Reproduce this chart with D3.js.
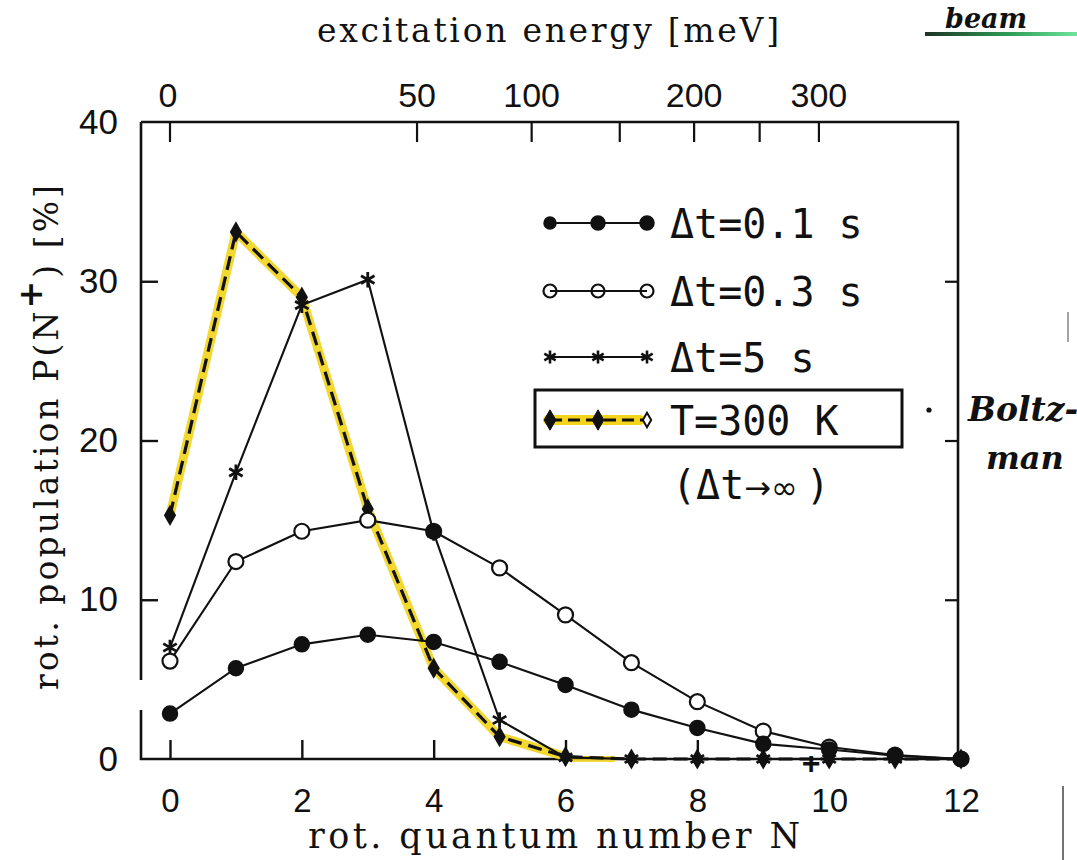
<!DOCTYPE html>
<html><head><meta charset="utf-8">
<script src="https://cdn.jsdelivr.net/npm/d3@7"></script>
<style>body{margin:0;background:#fff}svg{display:block}</style>
</head><body>
<svg id="c" width="1077" height="860"></svg>
<script>
// ---- data ----
const N      = [0,1,2,3,4,5,6,7,8,9,10,11,12];
const dt01   = [2.85,5.7,7.2,7.8,7.35,6.1,4.65,3.1,1.95,0.95,0.6,0.2,0];
const dt03   = [6.15,12.4,14.3,15.0,14.3,12.0,9.05,6.05,3.6,1.75,0.75,0.25,0];
const dt5    = [7.0,18.0,28.5,30.1,14.2,2.45,0.1,0,0,0,0,0,0];
const T300   = [15.3,33.1,29.0,15.7,5.7,1.4,0.15,0,0,0,0,0,0];
const xTicks = [0,2,4,6,8,10,12];
const yTicks = [0,10,20,30,40];
const energyTicks  = [0,50,100,150,200,250,300];
const energyLabels = ["0","50","100","","200","","300"];
const Brot = 2.81; // meV, E = B N(N+1)
const legendLabels = ["\u0394t=0.1 s","\u0394t=0.3 s","\u0394t=5 s","T=300 K"];

// ---- setup ----
const svg = d3.select("#c");
const x = d3.scaleLinear().domain([0,12]).range([170,961]);
const y = d3.scaleLinear().domain([0,40]).range([759,122]);
const L = 141, R = 958, T = y(40), B = y(0);
const ink = "#111";
const yellow = "#f2d41a";
const sansNum = "'Liberation Sans', Arial, sans-serif";
const serif = "'DejaVu Serif', serif";
const legFont = "'DejaVu Sans Mono', monospace";

const ser = (vals) => N.map((n,i)=>({n, v: vals[i]}));
const line = d3.line().x(d=>x(d.n)).y(d=>y(d.v));

// ---- frame (left side broken, as in the scan) ----
const frame = svg.append("g").attr("stroke", ink).attr("stroke-width", 2.6).attr("fill","none");
frame.append("path").attr("d", `M${L},${T}H${R}V${B}H${L}V710`);
frame.append("path").attr("d", `M${L},680V${T}`);

// bottom axis ticks (inward) + labels
const xAxis = d3.axisBottom(x).tickValues(xTicks).tickSize(-19).tickPadding(30).tickFormat(d3.format("d"));
const gx = svg.append("g").attr("transform", `translate(0,${B})`).call(xAxis);
gx.select(".domain").remove();
gx.selectAll(".tick line").attr("stroke", ink).attr("stroke-width", 2.4)
  .filter(d => d === 12).remove();
gx.selectAll(".tick text").attr("font-family", sansNum).attr("font-size", 33).attr("fill", ink);

// left axis
const yAxis = d3.axisLeft(y).tickValues(yTicks).tickSize(-17).tickPadding(23).tickFormat(d3.format("d"));
const gy = svg.append("g").attr("transform", `translate(${L},0)`).call(yAxis);
gy.select(".domain").remove();
gy.selectAll(".tick line").attr("stroke", ink).attr("stroke-width", 2.4)
  .filter(d => d === 0 || d === 40).remove();
gy.selectAll(".tick text").attr("font-family", sansNum).attr("font-size", 35).attr("fill", ink);

// right axis ticks
const yAxisR = d3.axisRight(y).tickValues([10,20,30]).tickSize(-13).tickFormat("");
const gyr = svg.append("g").attr("transform", `translate(${R},0)`).call(yAxisR);
gyr.select(".domain").remove();
gyr.selectAll(".tick line").attr("stroke", ink).attr("stroke-width", 2.2);

// top energy axis
const eToN = E => (-1 + Math.sqrt(1 + 4*E/Brot)) / 2;
const ex = E => x(eToN(E));
const gt = svg.append("g");
gt.selectAll("line").data(energyTicks).join("line")
  .attr("x1", d=>ex(d)).attr("x2", d=>ex(d)).attr("y1", T).attr("y2", T+20)
  .attr("stroke", ink).attr("stroke-width", 2.2);
gt.selectAll("text").data(energyTicks).join("text")
  .attr("x", d=>ex(d) - (d===0?2:0)).attr("y", 107).attr("text-anchor","middle")
  .attr("font-family", sansNum).attr("font-size", 34).attr("fill", ink)
  .text((d,i)=>energyLabels[i]);

// ---- axis titles ----
svg.append("text").attr("x", 317).attr("y", 42).attr("font-family", serif)
  .attr("font-size", 33).attr("fill", ink)
  .attr("textLength", 462).attr("lengthAdjust", "spacing").text("excitation energy [meV]");
svg.append("text").attr("x", 308).attr("y", 848).attr("font-family", serif)
  .attr("font-size", 35).attr("fill", ink)
  .attr("textLength", 492).attr("lengthAdjust", "spacing").text("rot. quantum number N");
svg.append("text").attr("x", 811).attr("y", 774).attr("text-anchor","middle").attr("font-family", sansNum)
  .attr("font-size", 32).attr("font-weight", "bold").attr("fill", ink).text("+");
const yl = svg.append("text").attr("transform", "translate(58,690) rotate(-90)")
  .attr("font-family", serif).attr("font-size", 33).attr("fill", ink)
  .attr("textLength", 505).attr("lengthAdjust", "spacing");
yl.append("tspan").text("rot. population P(N");
yl.append("tspan").attr("dy", -16).attr("font-weight","bold").text("+");
yl.append("tspan").attr("dy", 16).text(") [%]");

// ---- series ----
const plot = svg.append("g");
plot.append("path").datum(ser(T300).filter(d => d.n <= 6))
  .attr("d", line).attr("fill","none").attr("stroke", yellow).attr("stroke-width", 9)
  .attr("stroke-linejoin","round").attr("stroke-linecap","round").attr("opacity", 0.9);
plot.append("path").datum([{n:6,v:0},{n:6.75,v:0}]).attr("d", line).attr("fill","none")
  .attr("stroke", yellow).attr("stroke-width", 6).attr("opacity", 0.85);

[dt01, dt03, dt5].forEach(s => {
  plot.append("path").datum(ser(s)).attr("d", line).attr("fill","none")
    .attr("stroke", ink).attr("stroke-width", 2.1);
});
plot.append("path").datum(ser(T300)).attr("d", line).attr("fill","none")
  .attr("stroke", ink).attr("stroke-width", 3.2).attr("stroke-dasharray", "14,7");

// markers
const star = d3.symbol().type(d3.symbolAsterisk).size(170);
const diamond = d3.symbol().type(d3.symbolDiamond).size(130);
plot.append("g").selectAll("path").data(ser(dt5)).join("path")
  .attr("transform", d=>`translate(${x(d.n)},${y(d.v)})`).attr("d", star)
  .attr("fill","none").attr("stroke", ink).attr("stroke-width", 2.8);
plot.append("g").selectAll("path").data(ser(T300)).join("path")
  .attr("transform", d=>`translate(${x(d.n)},${y(d.v)})`).attr("d", diamond)
  .attr("fill", ink);
plot.append("g").selectAll("circle").data(ser(dt03)).join("circle")
  .attr("cx", d=>x(d.n)).attr("cy", d=>y(d.v)).attr("r", 7.5)
  .attr("fill", d => d.n === 4 ? ink : "#fff").attr("stroke", ink).attr("stroke-width", 2.2);
plot.append("g").selectAll("circle").data(ser(dt01)).join("circle")
  .attr("cx", d=>x(d.n)).attr("cy", d=>y(d.v)).attr("r", 7.5)
  .attr("fill", ink).attr("stroke", ink).attr("stroke-width", 1.5);

// ---- legend ----
const lg = svg.append("g");
const lx = [550, 598, 647];
const ly = [223, 291, 357, 420];
lg.append("rect").attr("x", 535).attr("y", 390).attr("width", 367).attr("height", 57)
  .attr("fill","none").attr("stroke", ink).attr("stroke-width", 3);
legendLabels.forEach((lab, i) => {
  const yy = ly[i];
  if (i === 3) {
    lg.append("line").attr("x1", 548).attr("x2", 640).attr("y1", yy).attr("y2", yy)
      .attr("stroke", yellow).attr("stroke-width", 10).attr("stroke-linecap","round");
    lg.append("line").attr("x1", lx[0]).attr("x2", lx[2]).attr("y1", yy).attr("y2", yy)
      .attr("stroke", ink).attr("stroke-width", 3).attr("stroke-dasharray", "12,6");
  } else {
    lg.append("line").attr("x1", lx[0]).attr("x2", lx[2]).attr("y1", yy).attr("y2", yy)
      .attr("stroke", ink).attr("stroke-width", 2.1);
  }
  lx.forEach((px, j) => {
    if (i === 0) {
      lg.append("circle").attr("cx", px).attr("cy", yy).attr("r", j===0?6:7)
        .attr("fill", ink).attr("stroke", ink).attr("stroke-width", 1.5);
    } else if (i === 1) {
      lg.append("circle").attr("cx", px).attr("cy", yy).attr("r", 6.5)
        .attr("fill", "none").attr("stroke", ink).attr("stroke-width", 2.2);
    } else if (i === 2) {
      lg.append("path").attr("transform", `translate(${px},${yy})`)
        .attr("d", d3.symbol().type(d3.symbolAsterisk).size(120))
        .attr("fill","none").attr("stroke", ink).attr("stroke-width", 2.6);
    } else {
      lg.append("path").attr("transform", `translate(${px},${yy})`)
        .attr("d", d3.symbol().type(d3.symbolDiamond).size(j===2?60:120))
        .attr("fill", j===2 ? "#fff" : ink).attr("stroke", ink).attr("stroke-width", j===2?2:1);
    }
  });
  lg.append("text").attr("x", 670).attr("y", yy + 15).attr("font-family", legFont)
    .attr("font-size", 40).attr("fill", ink).text(lab);
});
const inf = lg.append("text").attr("x", 672).attr("y", 499).attr("font-family", legFont)
  .attr("font-size", 40).attr("fill", ink);
inf.append("tspan").text("(\u0394t");
inf.append("tspan").attr("font-family", "'DejaVu Sans', sans-serif").attr("font-size", 32).text("\u2192\u221E");
inf.append("tspan").attr("dx", 8).text(")");

// ---- handwritten annotations ----
svg.append("text").attr("x", 968).attr("y", 421).attr("font-family", serif)
  .attr("font-style","italic").attr("font-weight","bold").attr("font-size", 33).attr("fill", ink).text("Boltz-");
svg.append("text").attr("x", 986).attr("y", 469).attr("font-family", serif)
  .attr("font-style","italic").attr("font-weight","bold").attr("font-size", 32).attr("fill", ink).text("man");
svg.append("circle").attr("cx", 929).attr("cy", 410).attr("r", 2.6).attr("fill", ink);
svg.append("text").attr("x", 945).attr("y", 28).attr("font-family", serif)
  .attr("font-style","italic").attr("font-weight","bold").attr("font-size", 27).attr("fill", ink).text("beam");
const grad = svg.append("defs").append("linearGradient").attr("id","g1");
grad.append("stop").attr("offset","0%").attr("stop-color","#1d3324");
grad.append("stop").attr("offset","55%").attr("stop-color","#2f9c56");
grad.append("stop").attr("offset","100%").attr("stop-color","#6fe59b");
svg.append("rect").attr("x", 925).attr("y", 32).attr("width", 152).attr("height", 4).attr("fill","url(#g1)");
// scan artefact lines at right edge
svg.append("line").attr("x1",1063).attr("x2",1063).attr("y1",786).attr("y2",860)
  .attr("stroke","#444").attr("stroke-width",1.5);
svg.append("line").attr("x1",1068).attr("x2",1068).attr("y1",312).attr("y2",342)
  .attr("stroke","#666").attr("stroke-width",1.2);
</script>
</body></html>
